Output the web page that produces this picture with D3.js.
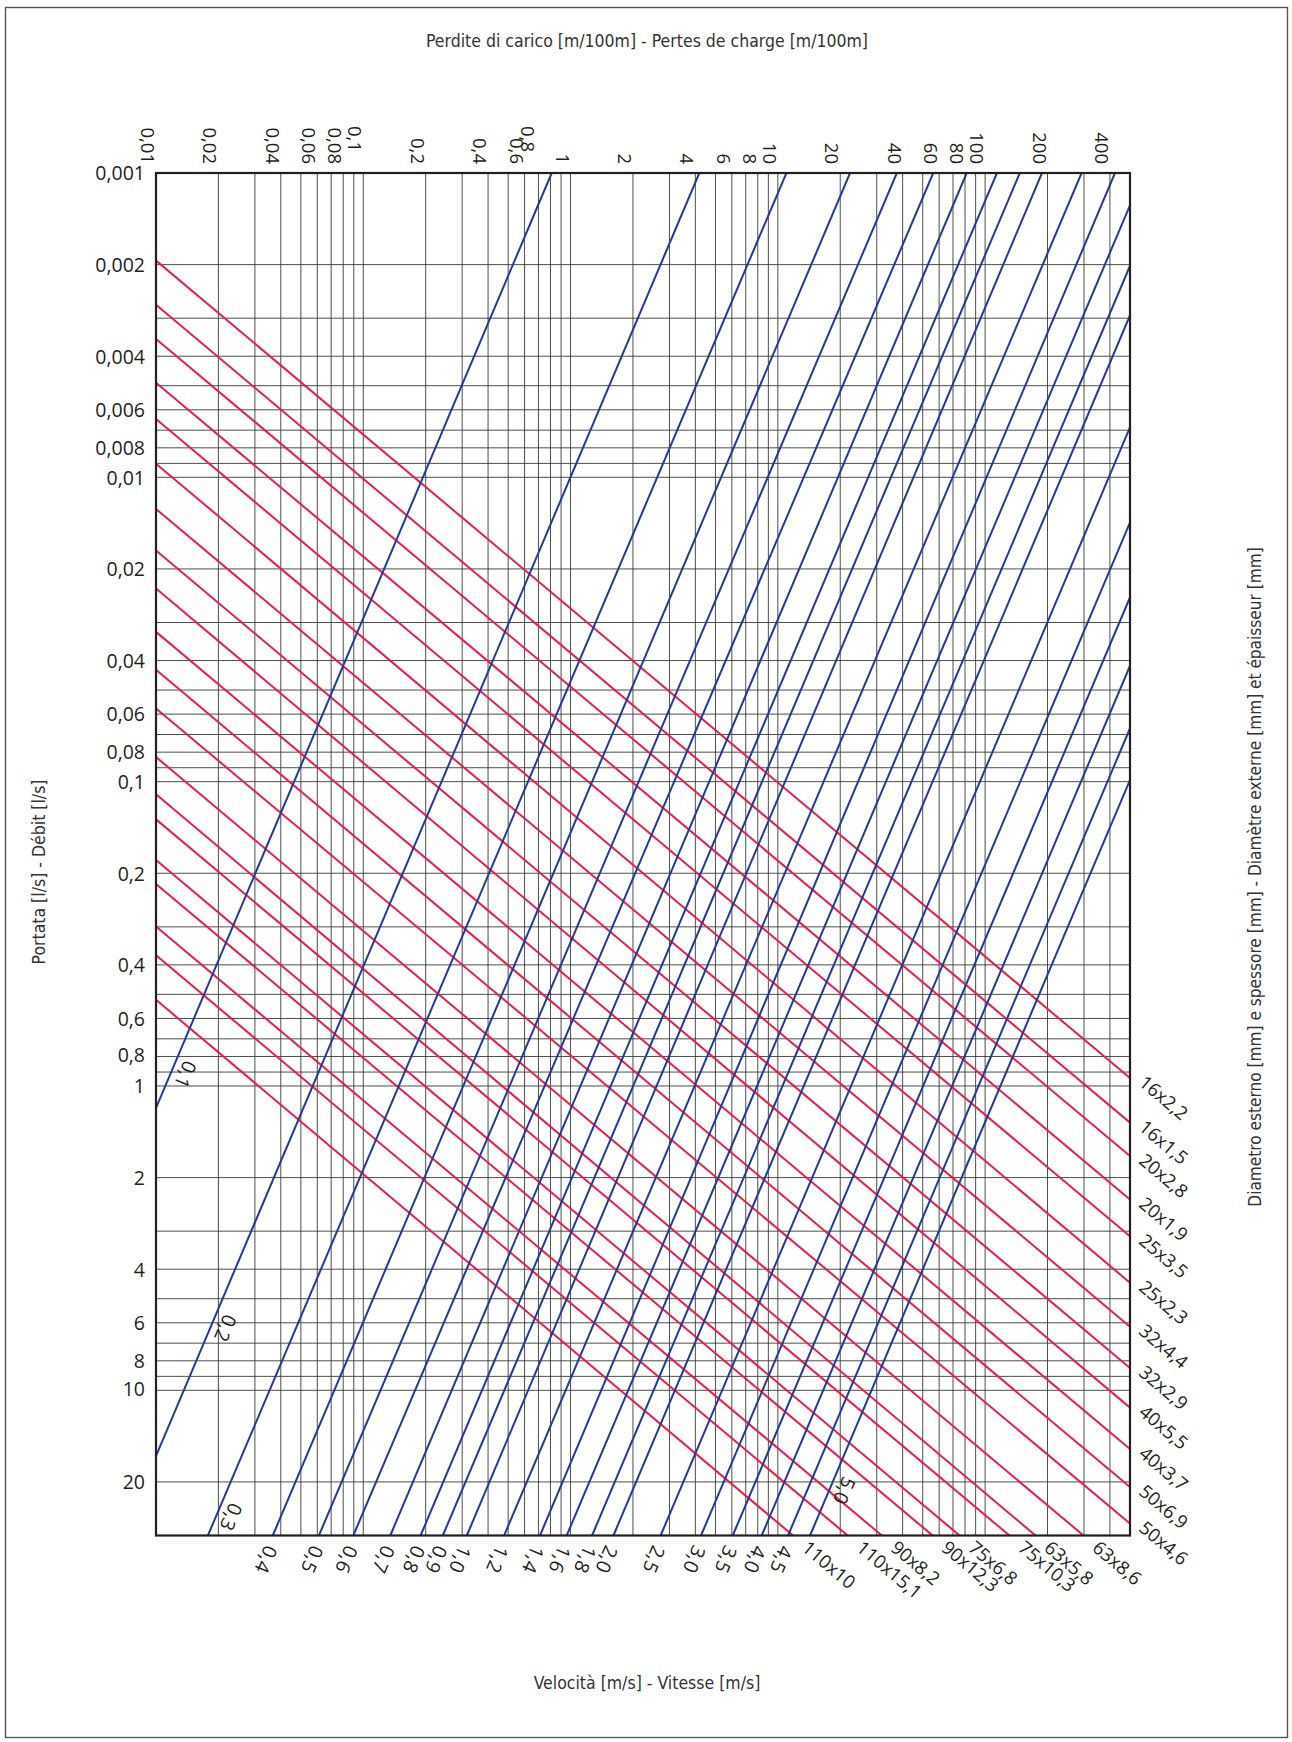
<!DOCTYPE html>
<html>
<head>
<meta charset="utf-8">
<script src="https://cdn.jsdelivr.net/npm/d3@7"></script>
<style>
  body { margin: 0; background: #fff; }
  svg { display: block; }
</style>
</head>
<body>
<div id="chart"></div>
<script>
/* ---- Data ---- */

/* velocity lines (blue) : J [m/100m] where each line meets Q = 0.001 l/s (top) and Q = 30 l/s (bottom) */
var velocities = [0.1, 0.2, 0.3, 0.4, 0.5, 0.6, 0.7, 0.8, 0.9, 1.0, 1.2, 1.4, 1.6, 1.8, 2.0, 2.5, 3.0, 3.5, 4.0, 4.5, 5.0];
var velJTop    = [0.811, 4.18, 11.0, 22.3, 37.5, 56.2, 81.5, 114, 147, 188, 292, 423, 582, 774, 977, 1654, 2588, 3681, 5081, 6828, 8690];
var velJBottom = [0.00134, 0.00688, 0.0178, 0.0366, 0.0611, 0.0895, 0.135, 0.189, 0.242, 0.316, 0.478, 0.712, 0.958, 1.27, 1.61, 2.72, 4.26, 6.06, 8.36, 11.2, 14.3];

/* pipe lines (red) : Q [l/s] where each line meets J = 0.01 (left) and J = 500 (right) */
var pipes      = ["16x2,2", "16x1,5", "20x2,8", "20x1,9", "25x3,5", "25x2,3", "32x4,4", "32x2,9", "40x5,5", "40x3,7",
                  "50x6,9", "50x4,6", "63x8,6", "63x5,8", "75x10,3", "75x6,8", "90x12,3", "90x8,2", "110x15,1", "110x10"];
var pipeQLeft  = [0.00194, 0.00271, 0.00351, 0.00489, 0.00643, 0.00902, 0.0127, 0.0174, 0.0232, 0.0322,
                  0.0429, 0.0575, 0.0830, 0.110, 0.133, 0.181, 0.217, 0.299, 0.372, 0.521];
var pipeQRight = [0.942, 1.32, 1.70, 2.36, 3.12, 4.43, 6.18, 8.45, 11.4, 15.6,
                  20.8, 27.4, 40.3, 54.8, 64.5, 88.7, 105, 145, 180, 256];

/* axis labels */
var headLossTicks = [0.01, 0.02, 0.04, 0.06, 0.08, 0.1, 0.2, 0.4, 0.6, 0.8, 1, 2, 4, 6, 8, 10, 20, 40, 60, 80, 100, 200, 400];
var flowTicks = [0.001, 0.002, 0.004, 0.006, 0.008, 0.01, 0.02, 0.04, 0.06, 0.08, 0.1, 0.2, 0.4, 0.6, 0.8, 1, 2, 4, 6, 8, 10, 20];

/* ---- Layout / style ---- */
var W = 1292, H = 1742;
var P = { left: 156, right: 1130, top: 173, bottom: 1535.5 };
var BLUE = "#233c8e", RED = "#ea1c4d", INK = "#231f20";
var NUM_FONT = "'Open Sans', 'DejaVu Sans', sans-serif";
var TITLE_FONT = "'Liberation Sans Narrow', 'DejaVu Sans Condensed', 'Liberation Sans', sans-serif";

/* hand placed label tweaks (screen px) */
var yLabelNudge = { "0.8": -2, "10": -2 };
var xLabelNudge = { "0.1": [0, -12], "0.8": [-14, -12] };
var velInside = { "0.1": 0.88, "0.2": 6.0, "0.3": 25, "5": 20.5 };   // labels drawn inside the plot, at this Q

var fmt = function (v) { return String(+v.toPrecision(6)).replace(".", ","); };
var fmtV = function (v) { return d3.format(".1f")(v).replace(".", ","); };

var svg = d3.select("#chart").append("svg")
  .attr("width", W).attr("height", H)
  .attr("viewBox", "0 0 " + W + " " + H);

svg.append("rect").attr("width", W).attr("height", H).attr("fill", "#fff");
svg.append("rect")
  .attr("x", 5.5).attr("y", 7.5).attr("width", 1282).attr("height", 1730)
  .attr("fill", "none").attr("stroke", "#555").attr("stroke-width", 1.4);

var x = d3.scaleLog().domain([0.01, 500]).range([P.left, P.right]);
var y = d3.scaleLog().domain([0.001, 30]).range([P.top, P.bottom]);

/* ---- Grid ---- */
var grid = svg.append("g").attr("stroke", "#3a3a3a").attr("stroke-width", 0.9);
x.ticks().forEach(function (t) {
  grid.append("line")
    .attr("x1", x(t)).attr("x2", x(t))
    .attr("y1", P.top).attr("y2", P.bottom);
});
y.ticks().forEach(function (t) {
  grid.append("line")
    .attr("x1", P.left).attr("x2", P.right)
    .attr("y1", y(t)).attr("y2", y(t));
});

/* ---- Lines (clipped to plot) ---- */
svg.append("clipPath").attr("id", "plotclip")
  .append("rect")
  .attr("x", P.left).attr("y", P.top)
  .attr("width", P.right - P.left).attr("height", P.bottom - P.top);

var lines = svg.append("g").attr("clip-path", "url(#plotclip)");

var pipeData = pipes.map(function (name, i) {
  var a = [x(0.01), y(pipeQLeft[i])], b = [x(500), y(pipeQRight[i])];
  var end, side;
  if (b[1] <= P.bottom) { end = b; side = "right"; }
  else {
    var t = (P.bottom - a[1]) / (b[1] - a[1]);
    end = [a[0] + t * (b[0] - a[0]), P.bottom]; side = "bottom";
  }
  var ang = Math.atan2(b[1] - a[1], b[0] - a[0]) * 180 / Math.PI;
  return { name: name, a: a, b: b, end: end, side: side, ang: ang };
});

pipeData.forEach(function (d) {
  lines.append("line")
    .attr("x1", d.a[0]).attr("y1", d.a[1])
    .attr("x2", d.b[0]).attr("y2", d.b[1])
    .attr("stroke", RED).attr("stroke-width", 2);
});

var velData = velocities.map(function (v, i) {
  var top = [x(velJTop[i]), y(0.001)], bot = [x(velJBottom[i]), y(30)];
  var ang = Math.atan2(bot[1] - top[1], bot[0] - top[0]) * 180 / Math.PI;
  return { v: v, top: top, bot: bot, ang: ang };
});

velData.forEach(function (d) {
  lines.append("line")
    .attr("x1", d.bot[0]).attr("y1", d.bot[1])
    .attr("x2", d.top[0]).attr("y2", d.top[1])
    .attr("stroke", BLUE).attr("stroke-width", 2);
});

/* frame */
svg.append("rect")
  .attr("x", P.left).attr("y", P.top)
  .attr("width", P.right - P.left).attr("height", P.bottom - P.top)
  .attr("fill", "none").attr("stroke", INK).attr("stroke-width", 2.2);

/* ---- Axes labels ---- */
var yAxisG = svg.append("g")
  .attr("transform", "translate(" + P.left + ",0)")
  .call(d3.axisLeft(y).tickValues(flowTicks).tickFormat(fmt).tickSize(0).tickPadding(11));
yAxisG.select(".domain").remove();
yAxisG.selectAll("text")
  .attr("font-family", NUM_FONT).attr("font-size", 19.5).attr("fill", INK)
  .attr("dy", "0.35em")
  .attr("transform", function (d) { return "translate(0," + (yLabelNudge[String(d)] || 0) + ")"; });

var xAxisG = svg.append("g")
  .attr("transform", "translate(0," + P.top + ")")
  .call(d3.axisTop(x).tickValues(headLossTicks).tickFormat(fmt).tickSize(0));
xAxisG.select(".domain").remove();
xAxisG.selectAll("text")
  .attr("font-family", NUM_FONT).attr("font-size", 18.5).attr("fill", INK)
  .attr("y", null).attr("dy", "0.35em")
  .attr("text-anchor", "end")
  .attr("transform", function (d) {
    var n = xLabelNudge[String(d)] || [0, 0];
    return "translate(" + (-9 + n[0]) + "," + (-9 + n[1]) + ") rotate(90)";
  });

/* ---- Velocity labels ---- */
var velLab = svg.append("g")
  .attr("font-family", NUM_FONT).attr("font-size", 19.5).attr("fill", INK);

velData.forEach(function (d) {
  var key = String(d.v);
  if (velInside[key] !== undefined) {
    var yy = y(velInside[key]);
    var t = (yy - d.top[1]) / (d.bot[1] - d.top[1]);
    var xx = d.top[0] + t * (d.bot[0] - d.top[0]);
    velLab.append("text")
      .attr("transform", "translate(" + xx + "," + yy + ") rotate(" + d.ang + ")")
      .attr("text-anchor", "middle").attr("y", -7)
      .text(fmtV(d.v));
  } else {
    velLab.append("text")
      .attr("transform", "translate(" + d.bot[0] + "," + d.bot[1] + ") rotate(" + d.ang + ")")
      .attr("x", 11).attr("dy", "0.2em")
      .text(fmtV(d.v));
  }
});

/* ---- Pipe labels ---- */
var pipeLab = svg.append("g")
  .attr("font-family", NUM_FONT).attr("font-size", 18.5).attr("fill", INK);

pipeData.forEach(function (d) {
  var off = d.side === "right" ? [10, 0] : [15, 6];
  pipeLab.append("text")
    .attr("transform", "translate(" + d.end[0] + "," + d.end[1] + ") rotate(" + d.ang + ")")
    .attr("x", off[0]).attr("y", off[1])
    .text(d.name);
});

/* ---- Titles ---- */
var titles = svg.append("g")
  .attr("font-family", TITLE_FONT).attr("font-size", 17.5).attr("fill", "#333")
  .attr("text-anchor", "middle");

titles.append("text").attr("x", 647).attr("y", 41).attr("dy", "0.35em")
  .text("Perdite di carico [m/100m] - Pertes de charge [m/100m]");
titles.append("text").attr("x", 647).attr("y", 1683).attr("dy", "0.35em")
  .text("Velocità [m/s] - Vitesse [m/s]");
titles.append("text").attr("transform", "translate(39,872) rotate(-90)").attr("dy", "0.35em")
  .text("Portata [l/s] - Débit [l/s]");
titles.append("text").attr("transform", "translate(1255,877) rotate(-90)").attr("dy", "0.35em")
  .attr("font-size", 17.1)
  .text("Diametro esterno [mm] e spessore [mm] - Diamètre externe [mm] et épaisseur [mm]");
</script>
</body>
</html>
